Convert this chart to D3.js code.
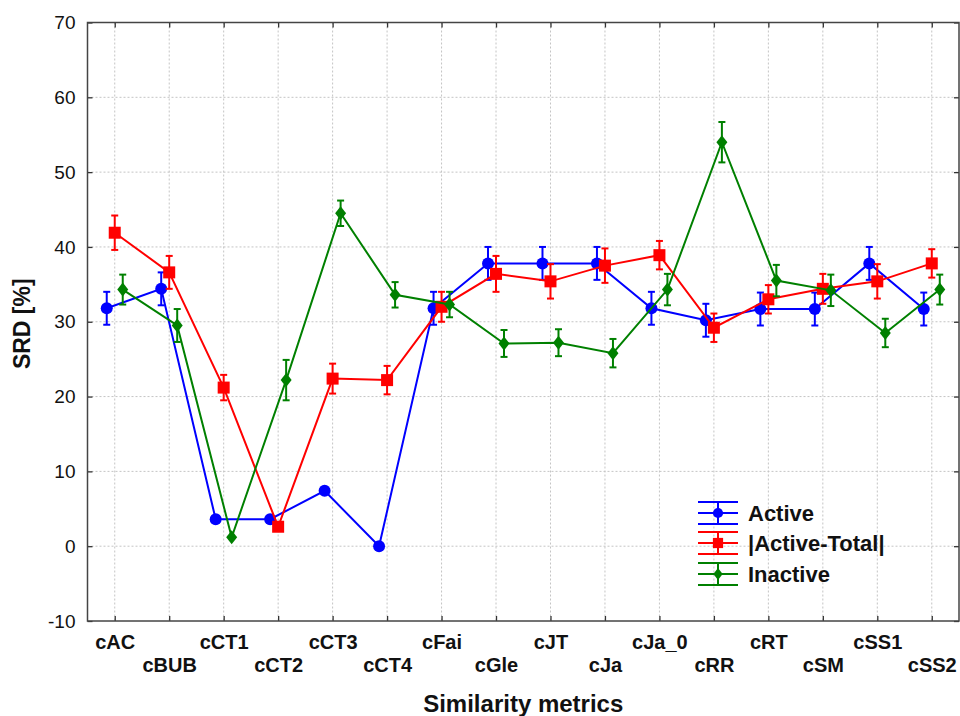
<!DOCTYPE html>
<html>
<head>
<meta charset="utf-8">
<script src="https://cdn.jsdelivr.net/npm/d3@7"></script>
<style>
  html, body { margin: 0; padding: 0; background: #fff; }
  svg { display: block; font-family: "Liberation Sans", Arial, sans-serif; }
</style>
</head>
<body>
<svg id="chart" width="960" height="716"></svg>
<script>
// Similarity metrics on the x axis
const categories = ["cAC","cBUB","cCT1","cCT2","cCT3","cCT4","cFai","cGle","cJT","cJa","cJa_0","cRR","cRT","cSM","cSS1","cSS2"];

// SRD [%] means and error half-widths per series
const active      = [31.8, 34.4, 3.6, 3.6, 7.4, 0.0, 31.8, 37.8, 37.8, 37.8, 31.8, 30.2, 31.7, 31.7, 37.8, 31.7];
const activeErr   = [2.2, 2.2, 0, 0, 0, 0, 2.2, 2.2, 2.2, 2.2, 2.2, 2.2, 2.2, 2.2, 2.2, 2.2];
const absDiff     = [41.9, 36.6, 21.2, 2.6, 22.4, 22.2, 32.0, 36.4, 35.4, 37.5, 38.9, 29.2, 33.0, 34.4, 35.4, 37.8];
const absDiffErr  = [2.3, 2.2, 1.7, 0, 2.0, 1.9, 2.0, 2.4, 2.3, 2.3, 1.9, 1.9, 1.9, 2.0, 2.3, 1.9];
const inactive    = [34.3, 29.5, 1.2, 22.2, 44.5, 33.6, 32.3, 27.1, 27.2, 25.8, 34.3, 54.0, 35.5, 34.2, 28.5, 34.3];
const inactiveErr = [2.0, 2.2, 0, 2.7, 1.7, 1.7, 1.7, 1.8, 1.8, 1.9, 2.1, 2.7, 2.1, 2.1, 1.9, 2.0];

const yTicks = [-10, 0, 10, 20, 30, 40, 50, 60, 70];
const seriesNames = ["Active", "|Active-Total|", "Inactive"];

const series = [
  { name: seriesNames[0], values: active,   err: activeErr,   color: "#0000ff", shape: "circle",  dx: -8 },
  { name: seriesNames[1], values: absDiff,  err: absDiffErr,  color: "#ff0000", shape: "square",  dx: 0 },
  { name: seriesNames[2], values: inactive, err: inactiveErr, color: "#008000", shape: "diamond", dx: 8 }
];

const svg = d3.select("#chart");
const plot = { left: 87.5, right: 959, top: 22.5, bottom: 621 };

const x = d3.scalePoint().domain(categories).range([plot.left, plot.right]).padding(0.5);
const y = d3.scaleLinear().domain([-10, 70]).range([plot.bottom, plot.top]);

// dotted grid
const grid = svg.append("g");
grid.selectAll("line.vg").data(categories).join("line")
  .attr("x1", d => x(d)).attr("x2", d => x(d))
  .attr("y1", plot.top).attr("y2", plot.bottom)
  .attr("stroke", "#c4c4c4").attr("stroke-width", 1).attr("stroke-dasharray", "2,2");
grid.selectAll("line.hg").data(yTicks.slice(1, -1)).join("line")
  .attr("x1", plot.left).attr("x2", plot.right)
  .attr("y1", d => y(d)).attr("y2", d => y(d))
  .attr("stroke", "#c4c4c4").attr("stroke-width", 1).attr("stroke-dasharray", "2,2");

// axes with inward ticks
const axisStyle = g => {
  g.select(".domain").remove();
  g.selectAll(".tick line").attr("stroke", "#333").attr("stroke-width", 1.3);
};

const yAxis = svg.append("g").attr("transform", `translate(${plot.left},0)`)
  .call(d3.axisLeft(y).tickValues(yTicks).tickFormat(d => String(d))
    .tickSizeInner(-5).tickSizeOuter(0).tickPadding(12));
yAxis.call(axisStyle);
yAxis.selectAll(".tick text").attr("font-size", 19).attr("fill", "#111")
  .attr("font-family", "Liberation Sans, Arial, sans-serif");

svg.append("g").attr("transform", `translate(${plot.right},0)`)
  .call(d3.axisRight(y).tickValues(yTicks).tickSizeInner(-5).tickSizeOuter(0).tickFormat(""))
  .call(axisStyle);

const xAxis = svg.append("g").attr("transform", `translate(0,${plot.bottom})`)
  .call(d3.axisBottom(x).tickSizeInner(-5).tickSizeOuter(0).tickPadding(0));
xAxis.call(axisStyle);
xAxis.selectAll(".tick text")
  .attr("font-size", 20).attr("font-weight", "bold").attr("fill", "#111")
  .attr("font-family", "Liberation Sans, Arial, sans-serif")
  .attr("dy", null)
  .attr("y", (d, i) => i % 2 === 0 ? 28 : 51);

svg.append("g").attr("transform", `translate(0,${plot.top})`)
  .call(d3.axisTop(x).tickSizeInner(-5).tickSizeOuter(0).tickFormat(""))
  .call(axisStyle);

// frame
svg.append("rect")
  .attr("x", plot.left).attr("y", plot.top)
  .attr("width", plot.right - plot.left).attr("height", plot.bottom - plot.top)
  .attr("fill", "none").attr("stroke", "#444").attr("stroke-width", 1.5);

// axis titles
svg.append("text")
  .attr("transform", `translate(30,${(plot.top + plot.bottom) / 2 + 2}) rotate(-90)`)
  .attr("text-anchor", "middle").attr("font-size", 23).attr("font-weight", "bold").attr("fill", "#111")
  .text("SRD [%]");
svg.append("text")
  .attr("x", (plot.left + plot.right) / 2 + 0).attr("y", 712)
  .attr("text-anchor", "middle").attr("font-size", 24).attr("font-weight", "bold").attr("fill", "#111")
  .text("Similarity metrics");

// markers
function drawMarker(g, shape, color, cx, cy, scale) {
  const s = scale || 1;
  if (shape === "circle") {
    g.append("circle").attr("cx", cx).attr("cy", cy).attr("r", 6 * s).attr("fill", color);
  } else if (shape === "square") {
    g.append("rect").attr("x", cx - 6 * s).attr("y", cy - 6 * s)
      .attr("width", 12 * s).attr("height", 12 * s).attr("fill", color);
  } else {
    const w = 5.5 * s, h = 7 * s;
    g.append("path")
      .attr("d", `M${cx},${cy - h}L${cx + w},${cy}L${cx},${cy + h}L${cx - w},${cy}Z`)
      .attr("fill", color);
  }
}

const capW = 3.5;
series.forEach(s => {
  const g = svg.append("g");
  const px = (d, i) => x(categories[i]) + s.dx;
  g.append("path")
    .datum(s.values)
    .attr("fill", "none").attr("stroke", s.color).attr("stroke-width", 2)
    .attr("d", d3.line().x((d, i) => px(d, i)).y(d => y(d)));

  s.values.forEach((v, i) => {
    const e = s.err[i];
    const cx = px(v, i);
    if (e > 0) {
      g.append("line").attr("x1", cx).attr("x2", cx).attr("y1", y(v + e)).attr("y2", y(v - e))
        .attr("stroke", s.color).attr("stroke-width", 2);
      [v + e, v - e].forEach(b => {
        g.append("line").attr("x1", cx - capW).attr("x2", cx + capW).attr("y1", y(b)).attr("y2", y(b))
          .attr("stroke", s.color).attr("stroke-width", 2);
      });
    }
    drawMarker(g, s.shape, s.color, cx, y(v));
  });
});

// legend
const legend = svg.append("g");
const legendRows = [513, 543, 574];
series.forEach((s, i) => {
  const cy = legendRows[i];
  const x0 = 698, x1 = 738, cx = 718;
  const lg = legend.append("g");
  [cy - 11, cy, cy + 11].forEach(yy => {
    lg.append("line").attr("x1", x0).attr("x2", x1).attr("y1", yy).attr("y2", yy)
      .attr("stroke", s.color).attr("stroke-width", 2);
  });
  lg.append("line").attr("x1", cx).attr("x2", cx).attr("y1", cy - 11).attr("y2", cy + 11)
    .attr("stroke", s.color).attr("stroke-width", 2);
  drawMarker(lg, s.shape, s.color, cx, cy, 0.85);
  lg.append("text").attr("x", 748).attr("y", cy + 8)
    .attr("font-size", 22).attr("font-weight", "bold").attr("fill", "#111")
    .text(s.name);
});
</script>
</body>
</html>
